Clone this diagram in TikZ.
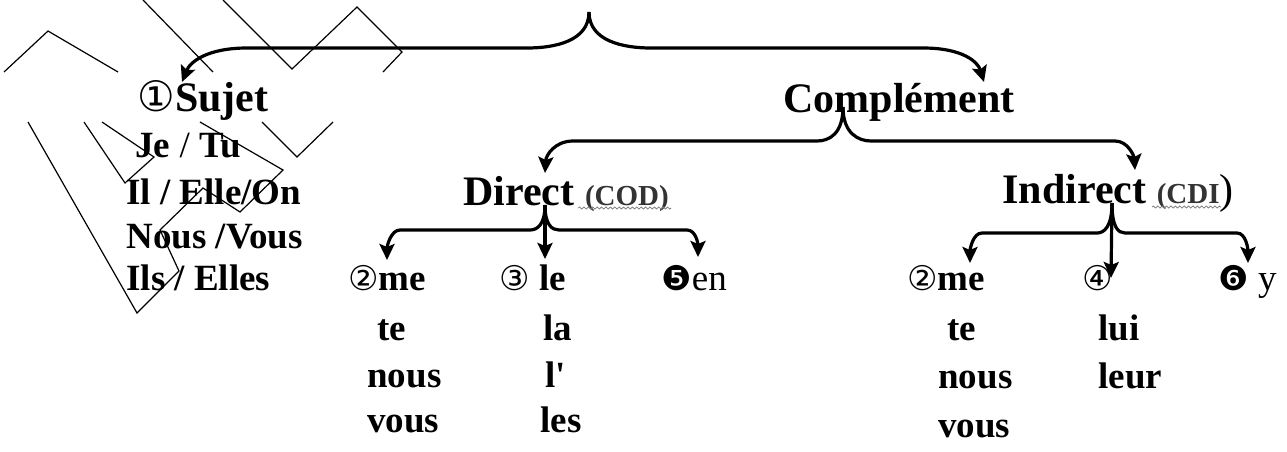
\documentclass[tikz,border=0pt]{standalone}
\usepackage{fontspec}
\setmainfont{Liberation Serif}
\newfontfamily\circfont{DejaVu Sans}
\usetikzlibrary{arrows.meta,calc,decorations.pathmorphing}
\newcommand{\cnum}[2][17]{{\circfont\fontsize{#1}{18}\selectfont\mdseries #2}}
\newcommand{\abbr}[1]{{\fontsize{14.5}{16}\selectfont\bfseries\color{black!80}#1}}
\tikzset{
  lbl/.style={anchor=base west, inner sep=0pt, font=\fontsize{18.5}{22}\selectfont\bfseries},
  head/.style={lbl, font=\fontsize{21}{25}\selectfont\bfseries},
  brarr/.style={line width=1.6pt, -{Stealth[length=8pt,width=7.5pt,inset=1.5pt]}},
  zig/.style={line width=0.6pt},
  squig/.style={gray, line width=0.4pt, decorate, decoration={snake, amplitude=0.5pt, segment length=2.2pt}}
}

\begin{document}
\begin{tikzpicture}[x=0.5pt,y=-0.5pt]
  \useasboundingbox (0,0) rectangle (1287,451);

  % zigzag lines
  \draw[zig] (4,72) -- (48,31) -- (118,72);
  \draw[zig] (143,0) -- (213,72);
  \draw[zig] (223,0) -- (292,69) -- (357,7) -- (402,52) -- (383,72);
  \draw[zig] (28,122) -- (137,313) -- (179,271) -- (160,230) -- (203,188) -- (240,212) -- (283,170) -- (200,122);
  \draw[zig] (84,122) -- (125,183) -- (154,157) -- (102,122);
  \draw[zig] (262,122) -- (297,157) -- (333,122);

  % left column
  \node[head] (sujet) at (137,111) {\cnum[21]{①}Sujet};
  \node[lbl] (jetu) at (135,157) {Je {\mdseries /} Tu};
  \node[lbl] (ilelle) at (126,204) {Il / Elle/On};
  \node[lbl] (nousvous) at (126,248) {Nous /Vous};
  \node[lbl] (ilselles) at (126,290) {Ils / Elles};

  % second level
  \node[head] (compl) at (783,112) {Complément};
  \node[head] (direct) at (463,205) {Direct \abbr{(COD)}};
  \node[head] (indirect) at (1002,203) {Indirect \abbr{(CDI}{\mdseries)}};

  % direct pronouns
  \node[lbl] (dme) at (348,290) {\cnum{②}me};
  \node[lbl] (dte) at (377,340) {te};
  \node[lbl] (dnous) at (367,387) {nous};
  \node[lbl] (dvous) at (367,432) {vous};
  \node[lbl] (dle) at (499,290) {\cnum{③} le};
  \node[lbl] (dla) at (543,340) {la};
  \node[lbl] (dl) at (545,387) {l\textquotesingle};
  \node[lbl] (dles) at (540,432) {les};
  \node[lbl] (den) at (661,290) {\cnum{❺}{\mdseries en}};

  % indirect pronouns
  \node[lbl] (ime) at (907,290) {\cnum{②}me};
  \node[lbl] (ite) at (947,340) {te};
  \node[lbl] (inous) at (938,388) {nous};
  \node[lbl] (ivous) at (938,437) {vous};
  \node[lbl] (ifour) at (1082,290) {\cnum{④}};
  \node[lbl] (ilui) at (1098,340) {lui};
  \node[lbl] (ileur) at (1098,388) {leur};
  \node[lbl] (iy) at (1218,290) {\cnum{❻} {\mdseries y}};

  % wavy marks
  \draw[squig] ($(direct.base east)+(-91,3)$) -- ($(direct.base east)+(2,3)$);
  \draw[squig] ($(indirect.base east)+(-82,4)$) -- ($(indirect.base east)+(-13,4)$);

  % brace peaks and arrow tips
  \coordinate (top) at (589,12);
  \coordinate (cpk) at ($(compl.base west)+(60,-5)$);
  \coordinate (dpk) at ($(direct.base west)+(82,0)$);
  \coordinate (ipk) at ($(indirect.base west)+(110,0)$);
  \coordinate (tSujet) at ($(sujet.base west)+(45,-29)$);
  \coordinate (tCompl) at ($(compl.base west)+(201,-30)$);
  \coordinate (tDirect) at ($(direct.base west)+(82,-32)$);
  \coordinate (tIndir) at ($(indirect.base west)+(133,-33)$);
  \coordinate (tdme) at ($(dme.base west)+(39,-30)$);
  \coordinate (tdle) at ($(dle.base west)+(46,-31)$);
  \coordinate (tden) at ($(den.base west)+(37,-33)$);
  \coordinate (time) at ($(ime.base west)+(63,-27)$);
  \coordinate (tifour) at ($(ifour.base west)+(29,-12)$);
  \coordinate (tiy) at ($(iy.base west)+(30,-27)$);

  % top brace
  \draw[brarr] (top) .. controls +(0,29) and +(28,0) .. ++(-62,36) -- ($(tSujet)+(65,-34)$) .. controls +(-40,0) and +(8,-20) .. (tSujet);
  \draw[brarr] (top) .. controls +(0,29) and +(-28,0) .. ++(62,36) -- ($(tCompl)+(-61,-34)$) .. controls +(40,0) and +(-6,-20) .. (tCompl);

  % complement brace
  \draw[brarr] (cpk) .. controls +(0,27) and +(12,0) .. ++(-26,34) -- ($(tDirect)+(28,-32)$) .. controls +(-18,0) and +(1,-18) .. (tDirect);
  \draw[brarr] (cpk) .. controls +(0,27) and +(-12,0) .. ++(28,34) -- ($(tIndir)+(-20,-29)$) .. controls +(13,0) and +(-1,-14) .. (tIndir);

  % direct brace
  \draw[brarr] (dpk) .. controls +(0,20) and +(7,0) .. ++(-15,25) -- ($(tdme)+(13,-30)$) .. controls +(-9,0) and +(0,-14) .. (tdme);
  \draw[brarr] (dpk) -- (tdle);
  \draw[brarr] (dpk) .. controls +(0,20) and +(-7,0) .. ++(14,25) -- ($(tden)+(-11,-27)$) .. controls +(9,0) and +(0,-13) .. (tden);

  % indirect brace
  \draw[brarr] (ipk) .. controls +(0,24) and +(7,0) .. ++(-15,30) -- ($(time)+(12,-30)$) .. controls +(-9,0) and +(0,-14) .. (time);
  \draw[brarr] (ipk) -- (tifour);
  \draw[brarr] (ipk) .. controls +(0,24) and +(-7,0) .. ++(13,30) -- ($(tiy)+(-11,-30)$) .. controls +(9,0) and +(0,-14) .. (tiy);
\end{tikzpicture}
\end{document}
